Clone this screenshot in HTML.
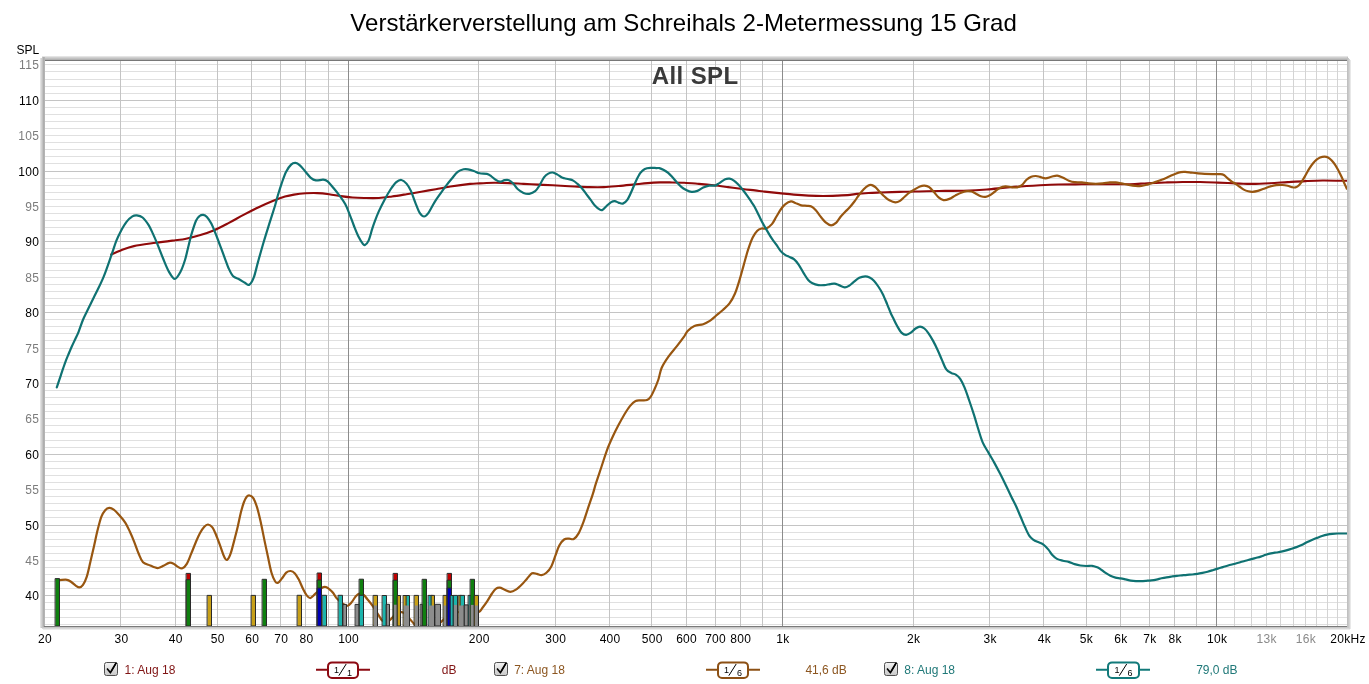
<!DOCTYPE html><html><head><meta charset="utf-8"><title>All SPL</title><style>
html,body{margin:0;padding:0;background:#fff;width:1369px;height:684px;overflow:hidden}
svg{display:block}text{font-family:"Liberation Sans",Arial,sans-serif}
</style></head><body>
<svg width="1369" height="684" viewBox="0 0 1369 684">
<defs>
<linearGradient id="gt" x1="0" y1="0" x2="0" y2="1"><stop offset="0" stop-color="#e6e6e6"/><stop offset="0.75" stop-color="#b4b4b4"/><stop offset="1" stop-color="#9a9a9a"/></linearGradient>
<linearGradient id="gl" x1="0" y1="0" x2="1" y2="0"><stop offset="0" stop-color="#ececec"/><stop offset="1" stop-color="#b0b0b0"/></linearGradient>
<linearGradient id="gr" x1="0" y1="0" x2="1" y2="0"><stop offset="0" stop-color="#b4b4b4"/><stop offset="1" stop-color="#f2f2f2"/></linearGradient>
<linearGradient id="gb" x1="0" y1="0" x2="0" y2="1"><stop offset="0" stop-color="#cfcfcf"/><stop offset="1" stop-color="#f6f6f6"/></linearGradient>
<linearGradient id="cb" x1="0" y1="0" x2="0" y2="1"><stop offset="0" stop-color="#f4f4f4"/><stop offset="1" stop-color="#c8c8c8"/></linearGradient>
<clipPath id="pc"><rect x="45" y="61" width="1302" height="565"/></clipPath>
</defs>
<text x="350.3" y="30.5" font-size="24" textLength="666.5" lengthAdjust="spacing" fill="#000">Verstärkerverstellung am Schreihals 2-Metermessung 15 Grad</text>
<text x="16.5" y="54" font-size="12" fill="#000">SPL</text>
<rect x="42" y="56" width="1306" height="1" fill="#e4e4e4"/><rect x="42" y="57" width="1306" height="1" fill="#d0d0d0"/><rect x="41" y="58" width="1306" height="1" fill="#c2c2c2"/><rect x="41" y="59" width="1306" height="1" fill="#b2b2b2"/><rect x="40" y="58" width="1" height="570" fill="#e2e2e2"/><rect x="41" y="58" width="1" height="570" fill="#d2d2d2"/><rect x="42" y="57" width="1" height="570" fill="#c2c2c2"/><rect x="43" y="57" width="1" height="570" fill="#aeaeae"/><rect x="44" y="57" width="1" height="570" fill="#b4b4b4"/><rect x="1347" y="57" width="1" height="572" fill="#c0c0c0"/><rect x="1348" y="58" width="1" height="571" fill="#c8c8c8"/><rect x="1349" y="59" width="1" height="570" fill="#d4d4d4"/><rect x="1350" y="60" width="1" height="569" fill="#e8e8e8"/><rect x="41" y="627" width="1307" height="1" fill="#c8c8c8"/><rect x="42" y="628" width="1307" height="1" fill="#d8d8d8"/><rect x="43" y="629" width="1307" height="1" fill="#ececec"/><rect x="45" y="60" width="1302" height="1" fill="#787878"/><rect x="44" y="626" width="1303" height="1" fill="#7a7a7a"/><rect x="45" y="61" width="1302" height="565" fill="#fff"/>
<rect x="45" y="624" width="1302" height="1" fill="#e0e0e0"/><rect x="45" y="617" width="1302" height="1" fill="#e0e0e0"/><rect x="45" y="609" width="1302" height="1" fill="#e0e0e0"/><rect x="45" y="602" width="1302" height="1" fill="#e0e0e0"/><rect x="45" y="595" width="1302" height="1" fill="#c4c4c4"/><rect x="45" y="588" width="1302" height="1" fill="#e0e0e0"/><rect x="45" y="581" width="1302" height="1" fill="#e0e0e0"/><rect x="45" y="574" width="1302" height="1" fill="#e0e0e0"/><rect x="45" y="567" width="1302" height="1" fill="#e0e0e0"/><rect x="45" y="560" width="1302" height="1" fill="#e0e0e0"/><rect x="45" y="553" width="1302" height="1" fill="#e0e0e0"/><rect x="45" y="546" width="1302" height="1" fill="#e0e0e0"/><rect x="45" y="539" width="1302" height="1" fill="#e0e0e0"/><rect x="45" y="532" width="1302" height="1" fill="#e0e0e0"/><rect x="45" y="525" width="1302" height="1" fill="#c4c4c4"/><rect x="45" y="517" width="1302" height="1" fill="#e0e0e0"/><rect x="45" y="510" width="1302" height="1" fill="#e0e0e0"/><rect x="45" y="503" width="1302" height="1" fill="#e0e0e0"/><rect x="45" y="496" width="1302" height="1" fill="#e0e0e0"/><rect x="45" y="489" width="1302" height="1" fill="#e0e0e0"/><rect x="45" y="482" width="1302" height="1" fill="#e0e0e0"/><rect x="45" y="475" width="1302" height="1" fill="#e0e0e0"/><rect x="45" y="468" width="1302" height="1" fill="#e0e0e0"/><rect x="45" y="461" width="1302" height="1" fill="#e0e0e0"/><rect x="45" y="454" width="1302" height="1" fill="#c4c4c4"/><rect x="45" y="447" width="1302" height="1" fill="#e0e0e0"/><rect x="45" y="440" width="1302" height="1" fill="#e0e0e0"/><rect x="45" y="432" width="1302" height="1" fill="#e0e0e0"/><rect x="45" y="425" width="1302" height="1" fill="#e0e0e0"/><rect x="45" y="418" width="1302" height="1" fill="#e0e0e0"/><rect x="45" y="411" width="1302" height="1" fill="#e0e0e0"/><rect x="45" y="404" width="1302" height="1" fill="#e0e0e0"/><rect x="45" y="397" width="1302" height="1" fill="#e0e0e0"/><rect x="45" y="390" width="1302" height="1" fill="#e0e0e0"/><rect x="45" y="383" width="1302" height="1" fill="#c4c4c4"/><rect x="45" y="376" width="1302" height="1" fill="#e0e0e0"/><rect x="45" y="369" width="1302" height="1" fill="#e0e0e0"/><rect x="45" y="362" width="1302" height="1" fill="#e0e0e0"/><rect x="45" y="355" width="1302" height="1" fill="#e0e0e0"/><rect x="45" y="348" width="1302" height="1" fill="#e0e0e0"/><rect x="45" y="340" width="1302" height="1" fill="#e0e0e0"/><rect x="45" y="333" width="1302" height="1" fill="#e0e0e0"/><rect x="45" y="326" width="1302" height="1" fill="#e0e0e0"/><rect x="45" y="319" width="1302" height="1" fill="#e0e0e0"/><rect x="45" y="312" width="1302" height="1" fill="#c4c4c4"/><rect x="45" y="305" width="1302" height="1" fill="#e0e0e0"/><rect x="45" y="298" width="1302" height="1" fill="#e0e0e0"/><rect x="45" y="291" width="1302" height="1" fill="#e0e0e0"/><rect x="45" y="284" width="1302" height="1" fill="#e0e0e0"/><rect x="45" y="277" width="1302" height="1" fill="#e0e0e0"/><rect x="45" y="270" width="1302" height="1" fill="#e0e0e0"/><rect x="45" y="263" width="1302" height="1" fill="#e0e0e0"/><rect x="45" y="256" width="1302" height="1" fill="#e0e0e0"/><rect x="45" y="248" width="1302" height="1" fill="#e0e0e0"/><rect x="45" y="241" width="1302" height="1" fill="#c4c4c4"/><rect x="45" y="234" width="1302" height="1" fill="#e0e0e0"/><rect x="45" y="227" width="1302" height="1" fill="#e0e0e0"/><rect x="45" y="220" width="1302" height="1" fill="#e0e0e0"/><rect x="45" y="213" width="1302" height="1" fill="#e0e0e0"/><rect x="45" y="206" width="1302" height="1" fill="#e0e0e0"/><rect x="45" y="199" width="1302" height="1" fill="#e0e0e0"/><rect x="45" y="192" width="1302" height="1" fill="#e0e0e0"/><rect x="45" y="185" width="1302" height="1" fill="#e0e0e0"/><rect x="45" y="178" width="1302" height="1" fill="#e0e0e0"/><rect x="45" y="171" width="1302" height="1" fill="#c4c4c4"/><rect x="45" y="163" width="1302" height="1" fill="#e0e0e0"/><rect x="45" y="156" width="1302" height="1" fill="#e0e0e0"/><rect x="45" y="149" width="1302" height="1" fill="#e0e0e0"/><rect x="45" y="142" width="1302" height="1" fill="#e0e0e0"/><rect x="45" y="135" width="1302" height="1" fill="#e0e0e0"/><rect x="45" y="128" width="1302" height="1" fill="#e0e0e0"/><rect x="45" y="121" width="1302" height="1" fill="#e0e0e0"/><rect x="45" y="114" width="1302" height="1" fill="#e0e0e0"/><rect x="45" y="107" width="1302" height="1" fill="#e0e0e0"/><rect x="45" y="100" width="1302" height="1" fill="#c4c4c4"/><rect x="45" y="93" width="1302" height="1" fill="#e0e0e0"/><rect x="45" y="86" width="1302" height="1" fill="#e0e0e0"/><rect x="45" y="79" width="1302" height="1" fill="#e0e0e0"/><rect x="45" y="71" width="1302" height="1" fill="#e0e0e0"/><rect x="45" y="64" width="1302" height="1" fill="#e0e0e0"/><rect x="120" y="61" width="1" height="565" fill="#c4c4c4"/><rect x="175" y="61" width="1" height="565" fill="#c4c4c4"/><rect x="217" y="61" width="1" height="565" fill="#c4c4c4"/><rect x="251" y="61" width="1" height="565" fill="#c4c4c4"/><rect x="280" y="61" width="1" height="565" fill="#c4c4c4"/><rect x="305" y="61" width="1" height="565" fill="#c4c4c4"/><rect x="328" y="61" width="1" height="565" fill="#c4c4c4"/><rect x="348" y="61" width="1" height="565" fill="#8c8c8c"/><rect x="478" y="61" width="1" height="565" fill="#c4c4c4"/><rect x="555" y="61" width="1" height="565" fill="#c4c4c4"/><rect x="609" y="61" width="1" height="565" fill="#c4c4c4"/><rect x="651" y="61" width="1" height="565" fill="#c4c4c4"/><rect x="686" y="61" width="1" height="565" fill="#c4c4c4"/><rect x="715" y="61" width="1" height="565" fill="#c4c4c4"/><rect x="740" y="61" width="1" height="565" fill="#c4c4c4"/><rect x="762" y="61" width="1" height="565" fill="#c4c4c4"/><rect x="782" y="61" width="1" height="565" fill="#8c8c8c"/><rect x="913" y="61" width="1" height="565" fill="#c4c4c4"/><rect x="989" y="61" width="1" height="565" fill="#c4c4c4"/><rect x="1043" y="61" width="1" height="565" fill="#c4c4c4"/><rect x="1086" y="61" width="1" height="565" fill="#c4c4c4"/><rect x="1120" y="61" width="1" height="565" fill="#c4c4c4"/><rect x="1149" y="61" width="1" height="565" fill="#c4c4c4"/><rect x="1174" y="61" width="1" height="565" fill="#c4c4c4"/><rect x="1196" y="61" width="1" height="565" fill="#c4c4c4"/><rect x="1216" y="61" width="1" height="565" fill="#8c8c8c"/><rect x="1234" y="61" width="1" height="565" fill="#d4d4d4"/><rect x="1251" y="61" width="1" height="565" fill="#d4d4d4"/><rect x="1266" y="61" width="1" height="565" fill="#d4d4d4"/><rect x="1280" y="61" width="1" height="565" fill="#d4d4d4"/><rect x="1293" y="61" width="1" height="565" fill="#d4d4d4"/><rect x="1305" y="61" width="1" height="565" fill="#d4d4d4"/><rect x="1316" y="61" width="1" height="565" fill="#d4d4d4"/><rect x="1327" y="61" width="1" height="565" fill="#d4d4d4"/><rect x="1337" y="61" width="1" height="565" fill="#d4d4d4"/>
<text x="39.3" y="599.8" text-anchor="end" font-size="12" letter-spacing="0.35" fill="#000">40</text>
<text x="39.3" y="564.8" text-anchor="end" font-size="12" letter-spacing="0.35" fill="#7c7c7c">45</text>
<text x="39.3" y="529.8" text-anchor="end" font-size="12" letter-spacing="0.35" fill="#000">50</text>
<text x="39.3" y="493.8" text-anchor="end" font-size="12" letter-spacing="0.35" fill="#7c7c7c">55</text>
<text x="39.3" y="458.8" text-anchor="end" font-size="12" letter-spacing="0.35" fill="#000">60</text>
<text x="39.3" y="422.8" text-anchor="end" font-size="12" letter-spacing="0.35" fill="#7c7c7c">65</text>
<text x="39.3" y="387.8" text-anchor="end" font-size="12" letter-spacing="0.35" fill="#000">70</text>
<text x="39.3" y="352.8" text-anchor="end" font-size="12" letter-spacing="0.35" fill="#7c7c7c">75</text>
<text x="39.3" y="316.8" text-anchor="end" font-size="12" letter-spacing="0.35" fill="#000">80</text>
<text x="39.3" y="281.8" text-anchor="end" font-size="12" letter-spacing="0.35" fill="#7c7c7c">85</text>
<text x="39.3" y="245.8" text-anchor="end" font-size="12" letter-spacing="0.35" fill="#000">90</text>
<text x="39.3" y="210.8" text-anchor="end" font-size="12" letter-spacing="0.35" fill="#7c7c7c">95</text>
<text x="39.3" y="175.8" text-anchor="end" font-size="12" letter-spacing="0.35" fill="#000">100</text>
<text x="39.3" y="139.8" text-anchor="end" font-size="12" letter-spacing="0.35" fill="#7c7c7c">105</text>
<text x="39.3" y="104.8" text-anchor="end" font-size="12" letter-spacing="0.35" fill="#000">110</text>
<text x="39.3" y="68.8" text-anchor="end" font-size="12" letter-spacing="0.35" fill="#7c7c7c">115</text>
<text x="45.0" y="643" text-anchor="middle" font-size="12" letter-spacing="0.3" fill="#000">20</text>
<text x="121.5" y="643" text-anchor="middle" font-size="12" letter-spacing="0.3" fill="#000">30</text>
<text x="175.8" y="643" text-anchor="middle" font-size="12" letter-spacing="0.3" fill="#000">40</text>
<text x="217.8" y="643" text-anchor="middle" font-size="12" letter-spacing="0.3" fill="#000">50</text>
<text x="252.2" y="643" text-anchor="middle" font-size="12" letter-spacing="0.3" fill="#000">60</text>
<text x="281.3" y="643" text-anchor="middle" font-size="12" letter-spacing="0.3" fill="#000">70</text>
<text x="306.5" y="643" text-anchor="middle" font-size="12" letter-spacing="0.3" fill="#000">80</text>
<text x="348.6" y="643" text-anchor="middle" font-size="12" letter-spacing="0.3" fill="#000">100</text>
<text x="479.3" y="643" text-anchor="middle" font-size="12" letter-spacing="0.3" fill="#000">200</text>
<text x="555.8" y="643" text-anchor="middle" font-size="12" letter-spacing="0.3" fill="#000">300</text>
<text x="610.1" y="643" text-anchor="middle" font-size="12" letter-spacing="0.3" fill="#000">400</text>
<text x="652.2" y="643" text-anchor="middle" font-size="12" letter-spacing="0.3" fill="#000">500</text>
<text x="686.6" y="643" text-anchor="middle" font-size="12" letter-spacing="0.3" fill="#000">600</text>
<text x="715.6" y="643" text-anchor="middle" font-size="12" letter-spacing="0.3" fill="#000">700</text>
<text x="740.8" y="643" text-anchor="middle" font-size="12" letter-spacing="0.3" fill="#000">800</text>
<text x="782.9" y="643" text-anchor="middle" font-size="12" letter-spacing="0.3" fill="#000">1k</text>
<text x="913.7" y="643" text-anchor="middle" font-size="12" letter-spacing="0.3" fill="#000">2k</text>
<text x="990.1" y="643" text-anchor="middle" font-size="12" letter-spacing="0.3" fill="#000">3k</text>
<text x="1044.4" y="643" text-anchor="middle" font-size="12" letter-spacing="0.3" fill="#000">4k</text>
<text x="1086.5" y="643" text-anchor="middle" font-size="12" letter-spacing="0.3" fill="#000">5k</text>
<text x="1120.9" y="643" text-anchor="middle" font-size="12" letter-spacing="0.3" fill="#000">6k</text>
<text x="1150.0" y="643" text-anchor="middle" font-size="12" letter-spacing="0.3" fill="#000">7k</text>
<text x="1175.2" y="643" text-anchor="middle" font-size="12" letter-spacing="0.3" fill="#000">8k</text>
<text x="1217.2" y="643" text-anchor="middle" font-size="12" letter-spacing="0.3" fill="#000">10k</text>
<text x="1266.7" y="643" text-anchor="middle" font-size="12" letter-spacing="0.3" fill="#8a8a8a">13k</text>
<text x="1305.9" y="643" text-anchor="middle" font-size="12" letter-spacing="0.3" fill="#8a8a8a">16k</text>
<text x="1348.0" y="643" text-anchor="middle" font-size="12" letter-spacing="0.3" fill="#000">20kHz</text>
<text x="695.2" y="84" text-anchor="middle" font-size="24" font-weight="bold" letter-spacing="0.4" fill="#3a3a3a">All SPL</text>
<g clip-path="url(#pc)" fill="none" stroke-linejoin="round" stroke-linecap="round">
<path d="M111.20,254.50 C112.78,253.82 116.92,251.80 120.70,250.40 C124.48,249.00 128.05,247.37 133.90,246.10 C139.75,244.83 148.87,243.78 155.80,242.80 C162.73,241.82 170.63,240.83 175.50,240.20 C180.37,239.57 180.98,239.82 185.00,239.00 C189.02,238.18 194.73,236.77 199.60,235.30 C204.47,233.83 209.32,232.27 214.20,230.20 C219.08,228.13 224.02,225.45 228.90,222.90 C233.78,220.35 238.63,217.47 243.50,214.90 C248.37,212.33 253.23,209.82 258.10,207.50 C262.97,205.18 268.22,202.82 272.70,201.00 C277.18,199.18 281.45,197.67 285.00,196.60 C288.55,195.53 290.55,195.15 294.00,194.60 C297.45,194.05 301.80,193.55 305.70,193.30 C309.60,193.05 313.50,192.95 317.40,193.10 C321.30,193.25 325.20,193.70 329.10,194.20 C333.00,194.70 336.90,195.55 340.80,196.10 C344.70,196.65 348.60,197.18 352.50,197.50 C356.40,197.82 359.82,197.92 364.20,198.00 C368.58,198.08 374.18,198.25 378.80,198.00 C383.42,197.75 387.28,197.13 391.90,196.50 C396.52,195.87 401.62,195.00 406.50,194.20 C411.38,193.40 416.32,192.53 421.20,191.70 C426.08,190.87 430.93,190.07 435.80,189.20 C440.67,188.33 444.70,187.38 450.40,186.50 C456.10,185.62 465.13,184.42 470.00,183.90 C474.87,183.38 475.57,183.58 479.60,183.40 C483.63,183.22 489.32,182.85 494.20,182.80 C499.08,182.75 504.02,182.92 508.90,183.10 C513.78,183.28 518.63,183.65 523.50,183.90 C528.37,184.15 533.23,184.37 538.10,184.60 C542.97,184.83 548.22,185.07 552.70,185.30 C557.18,185.53 561.35,185.80 565.00,186.00 C568.65,186.20 570.57,186.32 574.60,186.50 C578.63,186.68 584.32,187.00 589.20,187.10 C594.08,187.20 599.02,187.28 603.90,187.10 C608.78,186.92 613.63,186.42 618.50,186.00 C623.37,185.58 628.23,185.08 633.10,184.60 C637.97,184.12 643.22,183.47 647.70,183.10 C652.18,182.73 656.35,182.52 660.00,182.40 C663.65,182.28 665.57,182.35 669.60,182.40 C673.63,182.45 679.32,182.45 684.20,182.70 C689.08,182.95 694.02,183.47 698.90,183.90 C703.78,184.33 708.63,184.77 713.50,185.30 C718.37,185.83 723.23,186.48 728.10,187.10 C732.97,187.72 738.22,188.45 742.70,189.00 C747.18,189.55 751.35,189.97 755.00,190.40 C758.65,190.83 760.57,191.15 764.60,191.60 C768.63,192.05 774.32,192.60 779.20,193.10 C784.08,193.60 789.02,194.18 793.90,194.60 C798.78,195.02 803.63,195.37 808.50,195.60 C813.37,195.83 818.23,196.00 823.10,196.00 C827.97,196.00 833.22,195.78 837.70,195.60 C842.18,195.42 846.83,195.18 850.00,194.90 C853.17,194.62 853.63,194.22 856.70,193.90 C859.77,193.58 864.50,193.23 868.40,193.00 C872.30,192.77 876.20,192.65 880.10,192.50 C884.00,192.35 887.90,192.22 891.80,192.10 C895.70,191.98 899.60,191.90 903.50,191.80 C907.40,191.70 911.30,191.58 915.20,191.50 C919.10,191.42 921.93,191.40 926.90,191.30 C931.87,191.20 938.92,191.00 945.00,190.90 C951.08,190.80 956.43,190.93 963.40,190.70 C970.37,190.47 979.00,190.08 986.80,189.50 C994.60,188.92 1001.33,187.90 1010.20,187.20 C1019.07,186.50 1031.97,185.75 1040.00,185.30 C1048.03,184.85 1051.43,184.67 1058.40,184.50 C1065.37,184.33 1074.00,184.35 1081.80,184.30 C1089.60,184.25 1097.17,184.22 1105.20,184.20 C1113.23,184.18 1122.95,184.37 1130.00,184.20 C1137.05,184.03 1141.65,183.48 1147.50,183.20 C1153.35,182.92 1159.25,182.70 1165.10,182.50 C1170.95,182.30 1176.75,182.08 1182.60,182.00 C1188.45,181.92 1194.35,181.90 1200.20,182.00 C1206.05,182.10 1211.07,182.33 1217.70,182.60 C1224.33,182.87 1234.20,183.38 1240.00,183.60 C1245.80,183.82 1247.48,183.97 1252.50,183.90 C1257.52,183.83 1264.25,183.50 1270.10,183.20 C1275.95,182.90 1281.75,182.45 1287.60,182.10 C1293.45,181.75 1299.35,181.37 1305.20,181.10 C1311.05,180.83 1315.77,180.55 1322.70,180.50 C1329.63,180.45 1342.78,180.75 1346.80,180.80" stroke="#900a0a" stroke-width="2.1"/>
<path d="M56.50,580.00 C57.02,580.02 57.87,580.13 59.60,580.10 C61.33,580.07 64.95,579.48 66.90,579.80 C68.85,580.12 69.83,581.03 71.30,582.00 C72.77,582.97 74.35,584.70 75.70,585.60 C77.05,586.50 78.18,587.52 79.40,587.40 C80.62,587.28 81.78,586.65 83.00,584.90 C84.22,583.15 85.48,580.67 86.70,576.90 C87.92,573.13 89.08,567.42 90.30,562.30 C91.52,557.18 92.78,551.57 94.00,546.20 C95.22,540.83 96.38,534.98 97.60,530.10 C98.82,525.22 100.07,520.18 101.30,516.90 C102.53,513.62 103.67,511.90 105.00,510.40 C106.33,508.90 107.85,508.03 109.30,507.90 C110.75,507.77 111.98,508.33 113.70,509.60 C115.42,510.87 117.65,513.30 119.60,515.50 C121.55,517.70 123.70,520.13 125.40,522.80 C127.10,525.47 128.33,528.33 129.80,531.50 C131.27,534.67 132.73,538.13 134.20,541.80 C135.67,545.47 137.13,550.08 138.60,553.50 C140.07,556.92 141.07,560.32 143.00,562.30 C144.93,564.28 148.27,564.57 150.20,565.40 C152.13,566.23 153.25,566.87 154.60,567.30 C155.95,567.73 156.83,568.25 158.30,568.00 C159.77,567.75 161.58,566.67 163.40,565.80 C165.22,564.93 167.50,563.15 169.20,562.80 C170.90,562.45 172.13,563.02 173.60,563.70 C175.07,564.38 176.53,566.13 178.00,566.90 C179.47,567.67 180.93,568.80 182.40,568.30 C183.87,567.80 185.33,566.33 186.80,563.90 C188.27,561.47 189.73,557.23 191.20,553.70 C192.67,550.17 194.15,546.12 195.60,542.70 C197.05,539.28 198.45,535.87 199.90,533.20 C201.35,530.53 202.95,528.15 204.30,526.70 C205.65,525.25 206.65,524.38 208.00,524.50 C209.35,524.62 211.07,525.70 212.40,527.40 C213.73,529.10 214.67,531.53 216.00,534.70 C217.33,537.87 219.05,542.75 220.40,546.40 C221.75,550.05 223.00,554.35 224.10,556.60 C225.20,558.85 225.92,560.38 227.00,559.90 C228.08,559.42 229.27,557.43 230.60,553.70 C231.93,549.97 233.78,542.13 235.00,537.50 C236.22,532.87 236.93,530.02 237.90,525.90 C238.87,521.78 239.82,516.70 240.80,512.80 C241.78,508.90 242.82,505.18 243.80,502.50 C244.78,499.82 245.73,497.87 246.70,496.70 C247.67,495.53 248.50,495.25 249.60,495.50 C250.70,495.75 252.08,496.30 253.30,498.20 C254.52,500.10 255.68,503.02 256.90,506.90 C258.12,510.78 259.38,516.13 260.60,521.50 C261.82,526.87 262.98,533.25 264.20,539.10 C265.42,544.95 266.68,551.00 267.90,556.60 C269.12,562.20 270.28,568.55 271.50,572.70 C272.72,576.85 274.10,579.83 275.20,581.50 C276.30,583.17 277.00,583.18 278.10,582.70 C279.20,582.22 280.45,580.27 281.80,578.60 C283.15,576.93 284.73,573.97 286.20,572.70 C287.67,571.43 289.15,570.88 290.60,571.00 C292.05,571.12 293.53,571.97 294.90,573.40 C296.27,574.83 297.42,576.95 298.80,579.60 C300.18,582.25 301.88,586.67 303.20,589.30 C304.52,591.93 305.53,593.93 306.70,595.40 C307.87,596.87 309.03,598.10 310.20,598.10 C311.37,598.10 312.68,596.28 313.70,595.40 C314.72,594.52 314.83,594.12 316.30,592.80 C317.77,591.48 320.88,588.45 322.50,587.50 C324.12,586.55 324.83,586.80 326.00,587.10 C327.17,587.40 328.33,588.35 329.50,589.30 C330.67,590.25 331.83,591.33 333.00,592.80 C334.17,594.27 335.15,596.53 336.50,598.10 C337.85,599.67 339.35,600.88 341.10,602.20 C342.85,603.52 345.28,605.95 347.00,606.00 C348.72,606.05 349.93,604.12 351.40,602.50 C352.87,600.88 354.48,597.77 355.80,596.30 C357.12,594.83 357.98,593.92 359.30,593.70 C360.62,593.48 362.38,594.12 363.70,595.00 C365.02,595.88 365.72,597.20 367.20,599.00 C368.68,600.80 370.82,603.30 372.60,605.80 C374.38,608.30 376.33,611.57 377.90,614.00 C379.47,616.43 380.63,619.08 382.00,620.40 C383.37,621.72 384.83,621.90 386.10,621.90 C387.37,621.90 388.53,621.13 389.60,620.40 C390.67,619.67 391.43,618.65 392.50,617.50 C393.57,616.35 394.45,614.38 396.00,613.50 C397.55,612.62 400.15,612.02 401.80,612.20 C403.45,612.38 404.53,613.43 405.90,614.60 C407.27,615.77 408.63,617.65 410.00,619.20 C411.37,620.75 412.63,622.52 414.10,623.90 C415.57,625.28 416.98,626.32 418.80,627.50 C420.62,628.68 422.30,630.42 425.00,631.00 C427.70,631.58 432.43,632.38 435.00,631.00 C437.57,629.62 439.10,624.47 440.40,622.70 C441.70,620.93 441.20,621.85 442.80,620.40 C444.40,618.95 447.13,615.40 450.00,614.00 C452.87,612.60 456.67,612.00 460.00,612.00 C463.33,612.00 466.88,614.00 470.00,614.00 C473.12,614.00 476.62,613.03 478.70,612.00 C480.78,610.97 481.07,609.62 482.50,607.80 C483.93,605.98 485.72,603.48 487.30,601.10 C488.88,598.72 490.58,595.55 492.00,593.50 C493.42,591.45 494.50,589.77 495.80,588.80 C497.10,587.83 498.33,587.55 499.80,587.70 C501.27,587.85 502.85,589.02 504.60,589.70 C506.35,590.38 508.42,591.80 510.30,591.80 C512.18,591.80 513.90,591.00 515.90,589.70 C517.90,588.40 520.42,585.88 522.30,584.00 C524.18,582.12 525.58,580.18 527.20,578.40 C528.82,576.62 530.40,574.05 532.00,573.30 C533.60,572.55 535.20,573.58 536.80,573.90 C538.40,574.22 540.00,575.38 541.60,575.20 C543.20,575.02 544.78,574.27 546.40,572.80 C548.02,571.33 549.82,569.22 551.30,566.40 C552.78,563.58 553.97,559.38 555.30,555.90 C556.63,552.42 557.83,548.23 559.30,545.50 C560.77,542.77 562.48,540.63 564.10,539.50 C565.72,538.37 567.38,538.78 569.00,538.70 C570.62,538.62 572.20,539.88 573.80,539.00 C575.40,538.12 577.00,536.20 578.60,533.40 C580.20,530.60 581.80,526.48 583.40,522.20 C585.00,517.92 586.58,512.53 588.20,507.70 C589.82,502.87 591.85,497.13 593.10,493.20 C594.35,489.27 594.32,488.47 595.70,484.10 C597.08,479.73 599.50,472.72 601.40,467.00 C603.30,461.28 605.20,454.88 607.10,449.80 C609.00,444.72 610.90,440.62 612.80,436.50 C614.70,432.38 616.60,428.73 618.50,425.10 C620.40,421.47 622.30,417.87 624.20,414.70 C626.10,411.53 628.00,408.38 629.90,406.10 C631.80,403.82 633.70,401.95 635.60,401.00 C637.50,400.05 639.40,400.57 641.30,400.40 C643.20,400.23 645.42,400.63 647.00,400.00 C648.58,399.37 649.53,398.43 650.80,396.60 C652.07,394.77 653.33,391.85 654.60,389.00 C655.87,386.15 657.23,383.00 658.40,379.50 C659.57,376.00 659.98,371.73 661.60,368.00 C663.22,364.27 665.55,360.75 668.10,357.10 C670.65,353.45 674.33,349.38 676.90,346.10 C679.47,342.82 681.67,339.95 683.50,337.40 C685.33,334.85 686.08,332.70 687.90,330.80 C689.72,328.90 691.85,327.10 694.40,326.00 C696.95,324.90 700.63,325.05 703.20,324.20 C705.77,323.35 707.62,322.35 709.80,320.90 C711.98,319.45 714.12,317.32 716.30,315.50 C718.48,313.68 720.70,312.02 722.90,310.00 C725.10,307.98 727.48,306.15 729.50,303.40 C731.52,300.65 733.35,297.33 735.00,293.50 C736.65,289.67 737.95,285.13 739.40,280.40 C740.85,275.67 742.25,270.22 743.70,265.10 C745.15,259.98 746.60,254.30 748.10,249.70 C749.60,245.10 751.17,240.67 752.70,237.50 C754.23,234.33 755.80,232.20 757.30,230.70 C758.80,229.20 760.23,228.87 761.70,228.50 C763.17,228.13 764.40,229.23 766.10,228.50 C767.80,227.77 770.20,226.05 771.90,224.10 C773.60,222.15 774.83,219.23 776.30,216.80 C777.77,214.37 779.23,211.57 780.70,209.50 C782.17,207.43 783.40,205.75 785.10,204.40 C786.80,203.05 789.20,201.65 790.90,201.40 C792.60,201.15 793.58,202.23 795.30,202.90 C797.02,203.57 799.25,204.92 801.20,205.40 C803.15,205.88 805.30,205.62 807.00,205.80 C808.70,205.98 809.93,205.77 811.40,206.50 C812.87,207.23 814.33,208.60 815.80,210.20 C817.27,211.80 818.50,214.03 820.20,216.10 C821.90,218.17 824.18,221.07 826.00,222.60 C827.82,224.13 829.38,225.30 831.10,225.30 C832.82,225.30 834.72,224.02 836.30,222.60 C837.88,221.18 839.15,218.57 840.60,216.80 C842.05,215.03 843.48,213.58 845.00,212.00 C846.52,210.42 848.13,209.05 849.70,207.30 C851.27,205.55 852.85,203.55 854.40,201.50 C855.95,199.45 857.45,197.05 859.00,195.00 C860.55,192.95 862.13,190.80 863.70,189.20 C865.27,187.60 867.03,186.08 868.40,185.40 C869.77,184.72 870.73,184.80 871.90,185.10 C873.07,185.40 874.03,186.03 875.40,187.20 C876.77,188.37 878.53,190.50 880.10,192.10 C881.67,193.70 883.25,195.43 884.80,196.80 C886.35,198.17 887.65,199.37 889.40,200.30 C891.15,201.23 893.53,202.30 895.30,202.40 C897.07,202.50 898.45,201.83 900.00,200.90 C901.55,199.97 903.05,198.17 904.60,196.80 C906.15,195.43 907.73,193.87 909.30,192.70 C910.87,191.53 912.23,190.83 914.00,189.80 C915.77,188.77 918.15,187.18 919.90,186.50 C921.65,185.82 922.95,185.58 924.50,185.70 C926.05,185.82 927.63,186.13 929.20,187.20 C930.77,188.27 932.33,190.40 933.90,192.10 C935.47,193.80 937.00,196.07 938.60,197.40 C940.20,198.73 941.70,199.85 943.50,200.10 C945.30,200.35 947.45,199.65 949.40,198.90 C951.35,198.15 953.25,196.63 955.20,195.60 C957.15,194.57 959.15,193.43 961.10,192.70 C963.05,191.97 965.15,191.40 966.90,191.20 C968.65,191.00 970.03,191.05 971.60,191.50 C973.17,191.95 974.75,193.12 976.30,193.90 C977.85,194.68 979.35,195.72 980.90,196.20 C982.45,196.68 984.03,197.00 985.60,196.80 C987.17,196.60 988.73,195.88 990.30,195.00 C991.87,194.12 993.45,192.67 995.00,191.50 C996.55,190.33 997.85,188.87 999.60,188.00 C1001.35,187.13 1003.55,186.43 1005.50,186.30 C1007.45,186.17 1009.35,187.02 1011.30,187.20 C1013.25,187.38 1015.43,187.75 1017.20,187.40 C1018.97,187.05 1020.35,186.37 1021.90,185.10 C1023.45,183.83 1024.95,181.20 1026.50,179.80 C1028.05,178.40 1029.63,177.33 1031.20,176.70 C1032.77,176.07 1034.43,175.97 1035.90,176.00 C1037.37,176.03 1038.40,176.52 1040.00,176.90 C1041.60,177.28 1043.60,178.32 1045.50,178.30 C1047.40,178.28 1049.45,177.25 1051.40,176.80 C1053.35,176.35 1055.25,175.45 1057.20,175.60 C1059.15,175.75 1061.15,176.85 1063.10,177.70 C1065.05,178.55 1066.95,179.95 1068.90,180.70 C1070.85,181.45 1072.65,181.92 1074.80,182.20 C1076.95,182.48 1079.47,182.20 1081.80,182.40 C1084.13,182.60 1086.47,183.17 1088.80,183.40 C1091.13,183.63 1093.47,183.80 1095.80,183.80 C1098.13,183.80 1100.45,183.63 1102.80,183.40 C1105.15,183.17 1107.75,182.57 1109.90,182.40 C1112.05,182.23 1113.77,182.23 1115.70,182.40 C1117.63,182.57 1119.35,183.00 1121.50,183.40 C1123.65,183.80 1126.30,184.40 1128.60,184.80 C1130.90,185.20 1133.17,185.60 1135.30,185.80 C1137.43,186.00 1139.37,186.20 1141.40,186.00 C1143.43,185.80 1145.30,185.22 1147.50,184.60 C1149.70,183.98 1152.25,183.10 1154.60,182.30 C1156.95,181.50 1159.27,180.72 1161.60,179.80 C1163.93,178.88 1166.27,177.82 1168.60,176.80 C1170.93,175.78 1173.55,174.48 1175.60,173.70 C1177.65,172.92 1179.28,172.40 1180.90,172.10 C1182.52,171.80 1183.55,171.82 1185.30,171.90 C1187.05,171.98 1189.50,172.38 1191.40,172.60 C1193.30,172.82 1194.50,172.98 1196.70,173.20 C1198.90,173.42 1201.83,173.75 1204.60,173.90 C1207.37,174.05 1210.67,174.07 1213.30,174.10 C1215.93,174.13 1218.63,173.95 1220.40,174.10 C1222.17,174.25 1222.73,174.33 1223.90,175.00 C1225.07,175.67 1226.08,177.00 1227.40,178.10 C1228.72,179.20 1230.50,180.68 1231.80,181.60 C1233.10,182.52 1233.93,182.78 1235.20,183.60 C1236.47,184.42 1237.97,185.50 1239.40,186.50 C1240.83,187.50 1242.33,188.80 1243.80,189.60 C1245.27,190.40 1246.75,190.93 1248.20,191.30 C1249.65,191.67 1250.90,191.87 1252.50,191.80 C1254.10,191.73 1255.90,191.42 1257.80,190.90 C1259.70,190.38 1261.85,189.43 1263.90,188.70 C1265.95,187.97 1268.05,187.08 1270.10,186.50 C1272.15,185.92 1274.15,185.45 1276.20,185.20 C1278.25,184.95 1280.50,184.90 1282.40,185.00 C1284.30,185.10 1286.00,185.43 1287.60,185.80 C1289.20,186.17 1290.68,186.93 1292.00,187.20 C1293.32,187.47 1294.33,187.73 1295.50,187.40 C1296.67,187.07 1297.83,186.37 1299.00,185.20 C1300.17,184.03 1301.32,182.23 1302.50,180.40 C1303.68,178.57 1304.92,176.25 1306.10,174.20 C1307.28,172.15 1308.43,169.93 1309.60,168.10 C1310.77,166.27 1311.93,164.60 1313.10,163.20 C1314.27,161.80 1315.43,160.65 1316.60,159.70 C1317.77,158.75 1318.78,158.00 1320.10,157.50 C1321.42,157.00 1323.18,156.70 1324.50,156.70 C1325.82,156.70 1326.83,156.92 1328.00,157.50 C1329.17,158.08 1330.33,159.02 1331.50,160.20 C1332.67,161.38 1333.83,162.85 1335.00,164.60 C1336.17,166.35 1337.33,168.52 1338.50,170.70 C1339.67,172.88 1340.98,175.50 1342.00,177.70 C1343.02,179.90 1343.80,182.07 1344.60,183.90 C1345.40,185.73 1346.43,187.90 1346.80,188.70" stroke="#985610" stroke-width="2.2"/>
<rect x="55.5" y="578.6" width="4" height="47.4" fill="#108010" stroke="#2a2a2a" stroke-width="1"/><rect x="186.5" y="573.4" width="4" height="52.6" fill="#c00000" stroke="#2a2a2a" stroke-width="1"/><rect x="186.5" y="579.7" width="4" height="46.3" fill="#108010" stroke="#2a2a2a" stroke-width="1"/><rect x="207.5" y="595.4" width="4" height="30.6" fill="#c8a018" stroke="#2a2a2a" stroke-width="1"/><rect x="251.5" y="595.4" width="4" height="30.6" fill="#c8a018" stroke="#2a2a2a" stroke-width="1"/><rect x="262.5" y="579.3" width="4" height="46.7" fill="#108010" stroke="#2a2a2a" stroke-width="1"/><rect x="297.5" y="595.3" width="4" height="30.7" fill="#c8a018" stroke="#2a2a2a" stroke-width="1"/><rect x="317.5" y="573.0" width="4" height="53.0" fill="#c00000" stroke="#2a2a2a" stroke-width="1"/><rect x="317.5" y="580.0" width="4" height="46.0" fill="#108010" stroke="#2a2a2a" stroke-width="1"/><rect x="317.5" y="588.0" width="4" height="38.0" fill="#0000b8" stroke="#2a2a2a" stroke-width="1"/><rect x="322.5" y="595.3" width="4" height="30.7" fill="#1cb4ac" stroke="#2a2a2a" stroke-width="1"/><rect x="338.5" y="595.3" width="4" height="30.7" fill="#1cb4ac" stroke="#2a2a2a" stroke-width="1"/><rect x="343.5" y="604.4" width="3" height="21.6" fill="#8c8c8c" stroke="#2a2a2a" stroke-width="1"/><rect x="355.5" y="604.4" width="4" height="21.6" fill="#8c8c8c" stroke="#2a2a2a" stroke-width="1"/><rect x="359.5" y="579.2" width="4" height="46.8" fill="#108010" stroke="#2a2a2a" stroke-width="1"/><rect x="359.5" y="595.3" width="4" height="30.7" fill="#1cb4ac" stroke="#2a2a2a" stroke-width="1"/><rect x="373.5" y="595.4" width="4" height="30.6" fill="#c8a018" stroke="#2a2a2a" stroke-width="1"/><rect x="374" y="605.5" width="3" height="20.5" fill="#8c8c8c"/><rect x="382.5" y="595.5" width="4" height="30.5" fill="#1cb4ac" stroke="#2a2a2a" stroke-width="1"/><rect x="386.5" y="604.3" width="3" height="21.7" fill="#8c8c8c" stroke="#2a2a2a" stroke-width="1"/><rect x="393.5" y="573.4" width="4" height="52.6" fill="#c00000" stroke="#2a2a2a" stroke-width="1"/><rect x="393.5" y="580.2" width="4" height="45.8" fill="#108010" stroke="#2a2a2a" stroke-width="1"/><rect x="394" y="604.7" width="3" height="21.3" fill="#8c8c8c"/><rect x="397.5" y="595.5" width="3" height="30.5" fill="#c8a018" stroke="#2a2a2a" stroke-width="1"/><rect x="403.5" y="595.5" width="4" height="30.5" fill="#c8a018" stroke="#2a2a2a" stroke-width="1"/><rect x="406.5" y="595.5" width="3" height="30.5" fill="#1cb4ac" stroke="#2a2a2a" stroke-width="1"/><rect x="404" y="605.5" width="5" height="20.5" fill="#8c8c8c"/><rect x="414.5" y="595.4" width="4" height="30.6" fill="#c8a018" stroke="#2a2a2a" stroke-width="1"/><rect x="415" y="605.5" width="3" height="20.5" fill="#8c8c8c"/><rect x="420.5" y="604.3" width="2" height="21.7" fill="#8c8c8c" stroke="#2a2a2a" stroke-width="1"/><rect x="422.5" y="579.3" width="4" height="46.7" fill="#108010" stroke="#2a2a2a" stroke-width="1"/><rect x="428.5" y="595.4" width="4" height="30.6" fill="#1cb4ac" stroke="#2a2a2a" stroke-width="1"/><rect x="431.5" y="595.4" width="3" height="30.6" fill="#c8a018" stroke="#2a2a2a" stroke-width="1"/><rect x="429" y="605.5" width="5" height="20.5" fill="#8c8c8c"/><rect x="435.5" y="604.3" width="5" height="21.7" fill="#8c8c8c" stroke="#2a2a2a" stroke-width="1"/><rect x="443.5" y="595.4" width="4" height="30.6" fill="#c8a018" stroke="#2a2a2a" stroke-width="1"/><rect x="444" y="605.5" width="3" height="20.5" fill="#8c8c8c"/><rect x="447.5" y="573.4" width="4" height="52.6" fill="#c00000" stroke="#2a2a2a" stroke-width="1"/><rect x="447.5" y="580.2" width="4" height="45.8" fill="#108010" stroke="#2a2a2a" stroke-width="1"/><rect x="447.5" y="588.0" width="4" height="38.0" fill="#0000b8" stroke="#2a2a2a" stroke-width="1"/><rect x="450.5" y="595.5" width="3" height="30.5" fill="#1cb4ac" stroke="#2a2a2a" stroke-width="1"/><rect x="453.5" y="595.4" width="4" height="30.6" fill="#1cb4ac" stroke="#2a2a2a" stroke-width="1"/><rect x="454" y="604.9" width="3" height="21.1" fill="#8c8c8c"/><rect x="458.5" y="595.4" width="3" height="30.6" fill="#c8a018" stroke="#2a2a2a" stroke-width="1"/><rect x="460.5" y="595.4" width="4" height="30.6" fill="#1cb4ac" stroke="#2a2a2a" stroke-width="1"/><rect x="459" y="605.5" width="5" height="20.5" fill="#8c8c8c"/><rect x="464.5" y="604.9" width="4" height="21.1" fill="#8c8c8c" stroke="#2a2a2a" stroke-width="1"/><rect x="468.5" y="595.4" width="3" height="30.6" fill="#1cb4ac" stroke="#2a2a2a" stroke-width="1"/><rect x="469" y="605.0" width="2" height="21.0" fill="#8c8c8c"/><rect x="470.5" y="579.3" width="4" height="46.7" fill="#108010" stroke="#2a2a2a" stroke-width="1"/><rect x="471" y="604.9" width="3" height="21.1" fill="#8c8c8c"/><rect x="474.5" y="595.4" width="4" height="30.6" fill="#c8a018" stroke="#2a2a2a" stroke-width="1"/><rect x="475" y="605.5" width="3" height="20.5" fill="#8c8c8c"/>
<path d="M56.80,387.40 C57.13,386.40 58.10,383.50 58.80,381.40 C59.50,379.30 60.27,377.00 61.00,374.80 C61.73,372.60 62.38,370.57 63.20,368.20 C64.02,365.83 65.00,362.97 65.90,360.60 C66.80,358.23 67.60,356.38 68.60,354.00 C69.60,351.62 70.80,348.77 71.90,346.30 C73.00,343.83 74.10,341.57 75.20,339.20 C76.30,336.83 77.22,335.30 78.50,332.10 C79.78,328.90 81.42,323.60 82.90,320.00 C84.38,316.40 85.30,314.82 87.40,310.50 C89.50,306.18 92.78,299.75 95.50,294.10 C98.22,288.45 101.02,283.18 103.70,276.60 C106.38,270.02 109.50,260.55 111.60,254.60 C113.70,248.65 114.78,244.77 116.30,240.90 C117.82,237.03 119.00,234.57 120.70,231.40 C122.40,228.23 124.55,224.40 126.50,221.90 C128.45,219.40 130.68,217.48 132.40,216.40 C134.12,215.32 135.10,215.22 136.80,215.40 C138.50,215.58 140.65,215.92 142.60,217.50 C144.55,219.08 146.78,222.22 148.50,224.90 C150.22,227.58 151.43,230.43 152.90,233.60 C154.37,236.77 155.60,239.75 157.30,243.90 C159.00,248.05 161.17,253.88 163.10,258.50 C165.03,263.12 166.95,268.20 168.90,271.60 C170.85,275.00 172.85,278.90 174.80,278.90 C176.75,278.90 178.90,274.75 180.60,271.60 C182.30,268.45 183.78,263.85 185.00,260.00 C186.22,256.15 186.80,252.85 187.90,248.50 C189.00,244.15 190.25,238.53 191.60,233.90 C192.95,229.27 194.67,223.68 196.00,220.70 C197.33,217.72 198.38,216.97 199.60,216.00 C200.82,215.03 202.08,214.73 203.30,214.90 C204.52,215.07 205.57,215.55 206.90,217.00 C208.23,218.45 209.83,220.78 211.30,223.60 C212.77,226.42 214.23,230.23 215.70,233.90 C217.17,237.57 218.63,241.70 220.10,245.60 C221.57,249.50 223.03,253.42 224.50,257.30 C225.97,261.18 227.45,265.73 228.90,268.90 C230.35,272.07 231.50,274.58 233.20,276.30 C234.90,278.02 237.15,278.12 239.10,279.20 C241.05,280.28 243.20,281.88 244.90,282.80 C246.60,283.72 247.83,285.55 249.30,284.70 C250.77,283.85 252.23,281.55 253.70,277.70 C255.17,273.85 256.40,267.68 258.10,261.60 C259.80,255.52 261.95,247.77 263.90,241.20 C265.85,234.63 267.90,228.28 269.80,222.20 C271.70,216.12 273.95,209.18 275.30,204.70 C276.65,200.22 276.85,198.82 277.90,195.30 C278.95,191.78 280.25,187.50 281.60,183.60 C282.95,179.70 284.42,175.07 286.00,171.90 C287.58,168.73 289.52,166.10 291.10,164.60 C292.68,163.10 294.03,162.77 295.50,162.90 C296.97,163.03 298.20,163.90 299.90,165.40 C301.60,166.90 303.88,169.83 305.70,171.90 C307.52,173.97 309.10,176.38 310.80,177.80 C312.50,179.22 313.83,180.08 315.90,180.40 C317.97,180.72 321.25,179.53 323.20,179.70 C325.15,179.87 325.88,180.02 327.60,181.40 C329.32,182.78 331.55,185.68 333.50,188.00 C335.45,190.32 337.35,192.62 339.30,195.30 C341.25,197.98 343.48,200.93 345.20,204.10 C346.92,207.27 348.13,210.65 349.60,214.30 C351.07,217.95 352.55,222.33 354.00,226.00 C355.45,229.67 356.85,233.37 358.30,236.30 C359.75,239.23 361.60,242.15 362.70,243.60 C363.80,245.05 363.92,245.50 364.90,245.00 C365.88,244.50 367.38,243.28 368.60,240.60 C369.82,237.92 371.18,232.07 372.20,228.90 C373.22,225.73 373.60,224.52 374.70,221.60 C375.80,218.68 377.15,215.05 378.80,211.40 C380.45,207.75 382.65,203.35 384.60,199.70 C386.55,196.05 388.55,192.42 390.50,189.50 C392.45,186.58 394.48,183.78 396.30,182.20 C398.12,180.62 399.70,179.77 401.40,180.00 C403.10,180.23 404.92,181.78 406.50,183.60 C408.08,185.42 409.43,187.73 410.90,190.90 C412.37,194.07 413.83,198.93 415.30,202.60 C416.77,206.27 418.23,210.58 419.70,212.90 C421.17,215.22 422.63,216.50 424.10,216.50 C425.57,216.50 426.80,215.22 428.50,212.90 C430.20,210.58 432.35,205.77 434.30,202.60 C436.25,199.43 438.25,196.70 440.20,193.90 C442.15,191.10 444.05,188.37 446.00,185.80 C447.95,183.23 449.95,180.82 451.90,178.50 C453.85,176.18 455.75,173.43 457.70,171.90 C459.65,170.37 461.88,169.73 463.60,169.30 C465.32,168.87 466.30,169.02 468.00,169.30 C469.70,169.58 471.87,170.33 473.80,171.00 C475.73,171.67 477.42,172.82 479.60,173.30 C481.78,173.78 484.95,173.40 486.90,173.90 C488.85,174.40 489.83,175.32 491.30,176.30 C492.77,177.28 494.23,178.90 495.70,179.80 C497.17,180.70 498.63,181.63 500.10,181.70 C501.57,181.77 503.03,180.45 504.50,180.20 C505.97,179.95 507.45,179.63 508.90,180.20 C510.35,180.77 511.75,182.13 513.20,183.60 C514.65,185.07 515.88,187.45 517.60,189.00 C519.32,190.55 521.55,192.10 523.50,192.90 C525.45,193.70 527.35,194.08 529.30,193.80 C531.25,193.52 533.48,192.62 535.20,191.20 C536.92,189.78 538.13,187.62 539.60,185.30 C541.07,182.98 542.55,179.25 544.00,177.30 C545.45,175.35 546.85,174.40 548.30,173.60 C549.75,172.80 551.23,172.37 552.70,172.50 C554.17,172.63 555.63,173.60 557.10,174.40 C558.57,175.20 560.28,176.65 561.50,177.30 C562.72,177.95 563.18,177.98 564.40,178.30 C565.62,178.62 567.33,178.82 568.80,179.20 C570.27,179.58 571.75,179.82 573.20,180.60 C574.65,181.38 576.05,182.63 577.50,183.90 C578.95,185.17 580.43,186.50 581.90,188.20 C583.37,189.90 584.83,192.15 586.30,194.10 C587.77,196.05 589.23,197.95 590.70,199.90 C592.17,201.85 593.63,204.22 595.10,205.80 C596.57,207.38 598.28,208.72 599.50,209.40 C600.72,210.08 601.18,210.50 602.40,209.90 C603.62,209.30 605.33,207.10 606.80,205.80 C608.27,204.50 609.87,202.88 611.20,202.10 C612.53,201.32 613.58,201.02 614.80,201.10 C616.02,201.18 617.15,202.18 618.50,202.60 C619.85,203.02 621.43,204.05 622.90,203.60 C624.37,203.15 625.85,201.97 627.30,199.90 C628.75,197.83 630.15,194.37 631.60,191.20 C633.05,188.03 634.53,183.95 636.00,180.90 C637.47,177.85 638.93,174.90 640.40,172.90 C641.87,170.90 643.10,169.75 644.80,168.90 C646.50,168.05 648.65,167.93 650.60,167.80 C652.55,167.67 655.03,168.05 656.50,168.10 C657.97,168.15 658.18,167.78 659.40,168.10 C660.62,168.42 662.33,169.20 663.80,170.00 C665.27,170.80 666.75,171.68 668.20,172.90 C669.65,174.12 671.05,175.72 672.50,177.30 C673.95,178.88 675.43,180.82 676.90,182.40 C678.37,183.98 679.83,185.58 681.30,186.80 C682.77,188.02 684.00,188.85 685.70,189.70 C687.40,190.55 689.55,191.70 691.50,191.90 C693.45,192.10 695.45,191.63 697.40,190.90 C699.35,190.17 701.25,188.38 703.20,187.50 C705.15,186.62 707.15,185.92 709.10,185.60 C711.05,185.28 713.20,186.02 714.90,185.60 C716.60,185.18 717.58,184.17 719.30,183.10 C721.02,182.03 723.48,179.93 725.20,179.20 C726.92,178.47 728.15,178.47 729.60,178.70 C731.05,178.93 732.45,179.62 733.90,180.60 C735.35,181.58 736.83,183.08 738.30,184.60 C739.77,186.12 741.23,187.87 742.70,189.70 C744.17,191.53 745.63,193.53 747.10,195.60 C748.57,197.67 750.28,200.28 751.50,202.10 C752.72,203.92 753.18,204.30 754.40,206.50 C755.62,208.70 757.33,212.37 758.80,215.30 C760.27,218.23 761.75,221.42 763.20,224.10 C764.65,226.78 766.05,228.97 767.50,231.40 C768.95,233.83 770.43,236.50 771.90,238.70 C773.37,240.90 774.83,242.53 776.30,244.60 C777.77,246.67 779.23,249.40 780.70,251.10 C782.17,252.80 783.63,253.82 785.10,254.80 C786.57,255.78 788.03,256.27 789.50,257.00 C790.97,257.73 792.35,257.90 793.90,259.20 C795.45,260.50 797.15,262.43 798.80,264.80 C800.45,267.17 802.23,270.87 803.80,273.40 C805.37,275.93 806.75,278.35 808.20,280.00 C809.65,281.65 810.80,282.45 812.50,283.30 C814.20,284.15 816.45,284.80 818.40,285.10 C820.35,285.40 822.25,285.27 824.20,285.10 C826.15,284.93 828.38,284.35 830.10,284.10 C831.82,283.85 833.03,283.43 834.50,283.60 C835.97,283.77 837.20,284.48 838.90,285.10 C840.60,285.72 843.00,287.18 844.70,287.30 C846.40,287.42 847.63,286.65 849.10,285.80 C850.57,284.95 851.80,283.53 853.50,282.20 C855.20,280.87 857.35,278.78 859.30,277.80 C861.25,276.82 863.48,276.35 865.20,276.30 C866.92,276.25 868.15,276.77 869.60,277.50 C871.05,278.23 872.45,279.20 873.90,280.70 C875.35,282.20 876.83,284.30 878.30,286.50 C879.77,288.70 881.23,290.97 882.70,293.90 C884.17,296.83 885.77,300.92 887.10,304.10 C888.43,307.28 889.73,310.77 890.70,313.00 C891.67,315.23 891.80,315.28 892.90,317.50 C894.00,319.72 895.83,323.73 897.30,326.30 C898.77,328.87 900.23,331.48 901.70,332.90 C903.17,334.32 904.63,334.80 906.10,334.80 C907.57,334.80 908.92,333.95 910.50,332.90 C912.08,331.85 914.02,329.55 915.60,328.50 C917.18,327.45 918.53,326.60 920.00,326.60 C921.47,326.60 922.95,327.33 924.40,328.50 C925.85,329.67 927.25,331.53 928.70,333.60 C930.15,335.67 931.63,338.22 933.10,340.90 C934.57,343.58 936.03,346.53 937.50,349.70 C938.97,352.87 940.43,356.62 941.90,359.90 C943.37,363.18 944.72,367.20 946.30,369.40 C947.88,371.60 949.82,372.23 951.40,373.10 C952.98,373.97 954.33,373.63 955.80,374.60 C957.27,375.57 958.73,376.72 960.20,378.90 C961.67,381.08 963.10,384.10 964.60,387.70 C966.10,391.30 967.63,395.97 969.20,400.50 C970.77,405.03 972.47,410.07 974.00,414.90 C975.53,419.73 976.93,424.88 978.40,429.50 C979.87,434.12 981.10,438.70 982.80,442.60 C984.50,446.50 986.65,449.48 988.60,452.90 C990.55,456.32 992.55,459.57 994.50,463.10 C996.45,466.63 998.27,470.12 1000.30,474.10 C1002.33,478.08 1004.80,483.10 1006.70,487.00 C1008.60,490.90 1010.13,494.28 1011.70,497.50 C1013.27,500.72 1014.63,503.13 1016.10,506.30 C1017.57,509.47 1019.03,513.08 1020.50,516.50 C1021.97,519.92 1023.45,523.62 1024.90,526.80 C1026.35,529.98 1027.75,533.42 1029.20,535.60 C1030.65,537.78 1032.13,538.82 1033.60,539.90 C1035.07,540.98 1036.42,541.37 1038.00,542.10 C1039.58,542.83 1041.40,543.08 1043.10,544.30 C1044.80,545.52 1046.62,547.57 1048.20,549.40 C1049.78,551.23 1051.13,553.72 1052.60,555.30 C1054.07,556.88 1055.28,558.00 1057.00,558.90 C1058.72,559.80 1060.95,560.20 1062.90,560.70 C1064.85,561.20 1066.75,561.33 1068.70,561.90 C1070.65,562.47 1072.65,563.50 1074.60,564.10 C1076.55,564.70 1078.45,565.18 1080.40,565.50 C1082.35,565.82 1084.35,565.95 1086.30,566.00 C1088.25,566.05 1090.40,565.63 1092.10,565.80 C1093.80,565.97 1095.17,566.50 1096.50,567.00 C1097.83,567.50 1098.65,567.85 1100.10,568.80 C1101.55,569.75 1103.48,571.53 1105.20,572.70 C1106.92,573.87 1108.68,574.98 1110.40,575.80 C1112.12,576.62 1113.80,577.18 1115.50,577.60 C1117.20,578.02 1118.90,578.00 1120.60,578.30 C1122.30,578.60 1124.00,579.02 1125.70,579.40 C1127.40,579.78 1129.10,580.32 1130.80,580.60 C1132.50,580.88 1134.18,581.02 1135.90,581.10 C1137.62,581.18 1139.38,581.15 1141.10,581.10 C1142.82,581.05 1144.50,580.92 1146.20,580.80 C1147.90,580.68 1149.60,580.60 1151.30,580.40 C1153.00,580.20 1154.70,579.95 1156.40,579.60 C1158.10,579.25 1159.80,578.68 1161.50,578.30 C1163.20,577.92 1164.88,577.60 1166.60,577.30 C1168.32,577.00 1170.08,576.75 1171.80,576.50 C1173.52,576.25 1175.20,576.00 1176.90,575.80 C1178.60,575.60 1180.30,575.47 1182.00,575.30 C1183.70,575.13 1185.40,574.93 1187.10,574.80 C1188.80,574.67 1190.48,574.65 1192.20,574.50 C1193.92,574.35 1195.68,574.17 1197.40,573.90 C1199.12,573.63 1200.80,573.27 1202.50,572.90 C1204.20,572.53 1205.90,572.15 1207.60,571.70 C1209.30,571.25 1211.00,570.72 1212.70,570.20 C1214.40,569.68 1216.10,569.12 1217.80,568.60 C1219.50,568.08 1221.18,567.62 1222.90,567.10 C1224.62,566.58 1226.07,566.07 1228.10,565.50 C1230.13,564.93 1233.08,564.25 1235.10,563.70 C1237.12,563.15 1238.48,562.70 1240.20,562.20 C1241.92,561.70 1243.68,561.17 1245.40,560.70 C1247.12,560.23 1248.80,559.85 1250.50,559.40 C1252.20,558.95 1253.90,558.47 1255.60,558.00 C1257.30,557.53 1259.00,557.13 1260.70,556.60 C1262.40,556.07 1264.10,555.33 1265.80,554.80 C1267.50,554.27 1269.18,553.78 1270.90,553.40 C1272.62,553.02 1274.38,552.78 1276.10,552.50 C1277.82,552.22 1279.50,552.05 1281.20,551.70 C1282.90,551.35 1284.60,550.88 1286.30,550.40 C1288.00,549.92 1289.70,549.35 1291.40,548.80 C1293.10,548.25 1294.80,547.73 1296.50,547.10 C1298.20,546.47 1299.88,545.80 1301.60,545.00 C1303.32,544.20 1305.08,543.15 1306.80,542.30 C1308.52,541.45 1310.20,540.63 1311.90,539.90 C1313.60,539.17 1315.30,538.55 1317.00,537.90 C1318.70,537.25 1320.40,536.55 1322.10,536.00 C1323.80,535.45 1325.48,534.97 1327.20,534.60 C1328.92,534.23 1330.68,533.98 1332.40,533.80 C1334.12,533.62 1335.12,533.55 1337.50,533.50 C1339.88,533.45 1345.17,533.50 1346.70,533.50" stroke="#0f7272" stroke-width="2.2"/>
</g>
<rect x="104.5" y="662.5" width="13" height="13" rx="2" fill="url(#cb)" stroke="#505050" stroke-width="1"/><path d="M107.0,668.6 L110.3,672.6 L116.2,662.6" fill="none" stroke="#000" stroke-width="1.6" stroke-linejoin="miter"/><path d="M110.9,672.3 L116.4,662.9" fill="none" stroke="#000" stroke-width="1.2"/>
<text x="124.6" y="674" font-size="12" fill="#801414">1: Aug 18</text>
<line x1="316" y1="669.8" x2="370" y2="669.8" stroke="#8c0a12" stroke-width="2"/><rect x="328" y="662.4" width="30" height="15.6" rx="4" fill="#fff" stroke="#8c0a12" stroke-width="2"/><text x="336.6" y="672.8" text-anchor="middle" font-size="9" fill="#000">1</text><line x1="338.8" y1="675.7" x2="346.2" y2="664" stroke="#000" stroke-width="1"/><text x="349.4" y="675.8" text-anchor="middle" font-size="9" fill="#000">1</text>
<text x="456.5" y="674" text-anchor="end" font-size="12" fill="#801414">dB</text>
<rect x="494.5" y="662.5" width="13" height="13" rx="2" fill="url(#cb)" stroke="#505050" stroke-width="1"/><path d="M497.0,668.6 L500.3,672.6 L506.2,662.6" fill="none" stroke="#000" stroke-width="1.6" stroke-linejoin="miter"/><path d="M500.9,672.3 L506.4,662.9" fill="none" stroke="#000" stroke-width="1.2"/>
<text x="514.2" y="674" font-size="12" fill="#8c5620">7: Aug 18</text>
<line x1="706" y1="669.8" x2="760" y2="669.8" stroke="#8c5014" stroke-width="2"/><rect x="718" y="662.4" width="30" height="15.6" rx="4" fill="#fff" stroke="#8c5014" stroke-width="2"/><text x="726.6" y="672.8" text-anchor="middle" font-size="9" fill="#000">1</text><line x1="728.8" y1="675.7" x2="736.2" y2="664" stroke="#000" stroke-width="1"/><text x="739.4" y="675.8" text-anchor="middle" font-size="9" fill="#000">6</text>
<text x="846.8" y="674" text-anchor="end" font-size="12" fill="#8c5620">41,6 dB</text>
<rect x="884.5" y="662.5" width="13" height="13" rx="2" fill="url(#cb)" stroke="#505050" stroke-width="1"/><path d="M887.0,668.6 L890.3,672.6 L896.2,662.6" fill="none" stroke="#000" stroke-width="1.6" stroke-linejoin="miter"/><path d="M890.9,672.3 L896.4,662.9" fill="none" stroke="#000" stroke-width="1.2"/>
<text x="904.3" y="674" font-size="12" fill="#1f7878">8: Aug 18</text>
<line x1="1096" y1="669.8" x2="1150" y2="669.8" stroke="#127a7a" stroke-width="2"/><rect x="1108" y="662.4" width="31" height="15.6" rx="4" fill="#fff" stroke="#127a7a" stroke-width="2"/><text x="1117.1" y="672.8" text-anchor="middle" font-size="9" fill="#000">1</text><line x1="1119.3" y1="675.7" x2="1126.7" y2="664" stroke="#000" stroke-width="1"/><text x="1129.9" y="675.8" text-anchor="middle" font-size="9" fill="#000">6</text>
<text x="1237.5" y="674" text-anchor="end" font-size="12" fill="#1f7878">79,0 dB</text>
</svg></body></html>
